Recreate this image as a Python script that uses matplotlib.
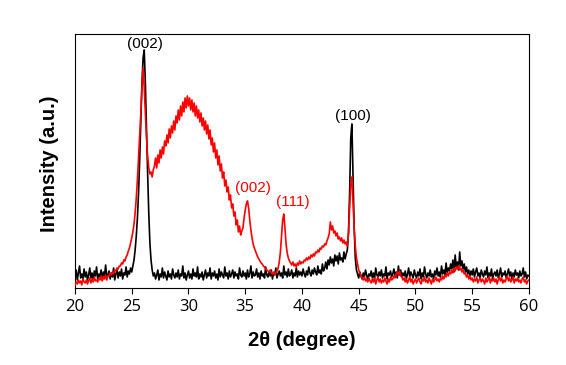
import matplotlib
matplotlib.use("Agg")
import matplotlib.pyplot as plt

plt.rcParams['font.family'] = ['Liberation Sans', 'DejaVu Sans']

two_theta = [round(20 + 0.1 * i, 1) for i in range(401)]

black = [
    12, 18, 8, 15, 22, 10, 14, 9, 19, 11,
    16, 8, 13, 20, 10, 15, 7, 17, 12, 21,
    9, 14, 11, 18, 8, 16, 12, 23, 10, 13,
    17, 9, 15, 11, 20, 8, 14, 18, 10, 16,
    12, 19, 9, 15, 13, 21, 11, 17, 14, 20,
    16, 22, 28, 38, 52, 70, 95, 128, 165, 205,
    230, 238, 205, 160, 115, 75, 45, 28, 18, 12,
    15, 9, 13, 18, 8, 14, 11, 20, 10, 16,
    12, 8, 17, 11, 14, 9, 19, 13, 10, 15,
    11, 18, 9, 14, 12, 22, 10, 15, 8, 13,
    17, 10, 14, 9, 19, 12, 15, 11, 21, 9,
    14, 11, 16, 8, 13, 18, 10, 15, 12, 20,
    9, 15, 12, 17, 10, 14, 8, 19, 11, 16,
    13, 10, 21, 12, 15, 9, 17, 11, 14, 18,
    10, 16, 12, 14, 9, 20, 13, 11, 17, 12,
    15, 9, 18, 11, 14, 22, 10, 16, 12, 13,
    19, 11, 15, 9, 17, 12, 14, 10, 21, 13,
    11, 16, 12, 18, 9, 15, 13, 20, 10, 14,
    17, 12, 15, 10, 22, 13, 16, 11, 19, 12,
    14, 18, 10, 15, 12, 20, 11, 17, 13, 16,
    12, 19, 14, 11, 17, 13, 21, 15, 12, 18,
    14, 20, 16, 13, 22, 15, 18, 14, 24, 17,
    20, 26, 19, 28, 23, 31, 25, 29, 22, 33,
    27, 32, 24, 35, 28, 30, 26, 36, 29, 34,
    38, 55, 95, 150, 164, 110, 60, 30, 18, 14,
    10, 16, 12, 9, 15, 11, 18, 13, 8, 14,
    12, 17, 10, 15, 9, 20, 13, 11, 16, 12,
    18, 10, 14, 12, 21, 9, 15, 13, 17, 11,
    14, 19, 12, 16, 10, 22, 13, 18, 11, 15,
    12, 17, 9, 14, 20, 11, 16, 13, 10, 18,
    13, 10, 16, 12, 19, 9, 15, 11, 21, 14,
    10, 15, 12, 18, 11, 14, 9, 17, 13, 20,
    12, 16, 11, 22, 14, 18, 13, 25, 15, 20,
    17, 24, 19, 28, 16, 33, 21, 26, 18, 36,
    22, 27, 19, 24, 16, 21, 14, 18, 12, 17,
    13, 19, 11, 16, 20, 12, 15, 10, 18, 14,
    11, 17, 13, 21, 10, 15, 12, 19, 9, 14,
    16, 12, 18, 10, 14, 20, 11, 15, 13, 17,
    10, 14, 19, 12, 16, 9, 15, 11, 18, 13,
    15, 10, 17, 12, 14, 20, 11, 16, 9, 13,
    12,
]

red = [
    3, 6, 4, 8, 5, 7, 3, 9, 6, 5,
    8, 4, 7, 10, 5, 9, 6, 11, 7, 8,
    6, 10, 8, 12, 7, 11, 9, 13, 8, 12,
    12, 15, 13, 16, 14, 18, 17, 20, 19, 22,
    22, 25, 24, 28, 27, 31, 33, 37, 40, 45,
    50, 56, 64, 75, 90, 108, 130, 152, 175, 200,
    220, 200, 175, 150, 132, 120, 114, 116, 111, 118,
    122, 130, 120, 133, 125, 138, 130, 141, 134, 147,
    142, 153, 145, 159, 150, 162, 155, 167, 158, 172,
    165, 178, 168, 182, 172, 186, 176, 190, 180, 192,
    182, 190, 178, 188, 176, 185, 172, 182, 170, 178,
    166, 175, 162, 170, 158, 167, 154, 163, 149, 158,
    143, 150, 136, 145, 130, 138, 123, 132, 117, 124,
    110, 116, 102, 108, 96, 101, 88, 93, 80, 84,
    72, 76, 63, 68, 56, 62, 53, 57, 60, 70,
    78, 84, 87, 80, 68, 58, 50, 44, 40, 37,
    34, 31, 29, 27, 25, 24, 22, 21, 19, 18,
    17, 16, 18, 15, 14, 16, 13, 15, 17, 20,
    26, 36, 52, 68, 74, 60, 44, 35, 30, 27,
    25, 23, 26, 22, 24, 21, 25, 23, 27, 24,
    26, 25, 28, 27, 30, 28, 31, 29, 33, 31,
    34, 32, 36, 35, 38, 36, 40, 39, 42, 41,
    44, 43, 47, 50, 54, 66, 58, 62, 55, 57,
    52, 55, 49, 51, 47, 50, 45, 48, 44, 46,
    42, 55, 80, 104, 111, 85, 60, 42, 30, 24,
    18, 15, 12, 10, 8, 11, 7, 9, 6, 10,
    7, 5, 9, 6, 10, 4, 8, 11, 6, 9,
    5, 8, 6, 10, 7, 4, 9, 6, 11, 8,
    9, 12, 10, 14, 16, 13, 17, 12, 11, 8,
    10, 6, 9, 5, 8, 11, 6, 9, 4, 7,
    9, 5, 8, 10, 6, 4, 9, 7, 11, 6,
    8, 5, 10, 7, 4, 9, 6, 8, 11, 7,
    9, 6, 10, 8, 12, 9, 13, 11, 15, 12,
    16, 14, 18, 15, 20, 17, 21, 19, 22, 18,
    20, 16, 18, 14, 15, 11, 13, 9, 12, 8,
    10, 6, 9, 7, 11, 5, 8, 10, 6, 9,
    7, 4, 10, 6, 8, 11, 5, 9, 7, 10,
    6, 9, 4, 8, 11, 7, 10, 5, 8, 6,
    9, 12, 7, 10, 6, 8, 11, 5, 9, 7,
    10, 6, 8, 5, 9, 11, 6, 8, 4, 7,
    8,
]

black_labels = ["(002)", "(100)"]
black_label_pos = [(26.15, 244), (44.5, 172)]
red_labels = ["(002)", "(111)"]
red_label_pos = [(35.7, 100), (39.2, 86)]

xticks = [20, 25, 30, 35, 40, 45, 50, 55, 60]

fig = plt.figure(figsize=(5.66, 3.65), dpi=100)
ax = fig.add_axes([0.1325, 0.211, 0.802, 0.696])

ax.plot(two_theta, black, color='black', lw=1.2, zorder=2)
ax.plot(two_theta, red, color='#ff0000', lw=1.2, zorder=3)

for t, (x, y) in zip(black_labels, black_label_pos):
    ax.text(x, y, t, color='black', ha='center', va='center', fontsize=11)
for t, (x, y) in zip(red_labels, red_label_pos):
    ax.text(x, y, t, color='#ff0000', ha='center', va='center', fontsize=11)

ax.set_xlim(20, 60)
ax.set_ylim(0, 254)
ax.set_xticks(xticks)
ax.set_xticklabels([str(v) for v in xticks], fontsize=12,
                   family=['Open Sans', 'DejaVu Sans'])
ax.set_yticks([])
ax.tick_params(axis='x', direction='out', length=4, width=0.8, pad=4)
for s in ax.spines.values():
    s.set_linewidth(0.8)

ax.set_xlabel('2θ (degree)', fontsize=14.5, fontweight='bold')
ax.set_ylabel('Intensity (a.u.)', fontsize=14.5, fontweight='bold')
ax.xaxis.set_label_coords(0.5, -0.17)
ax.yaxis.set_label_coords(-0.035, 0.49)

fig.savefig('out.png', dpi=100)
